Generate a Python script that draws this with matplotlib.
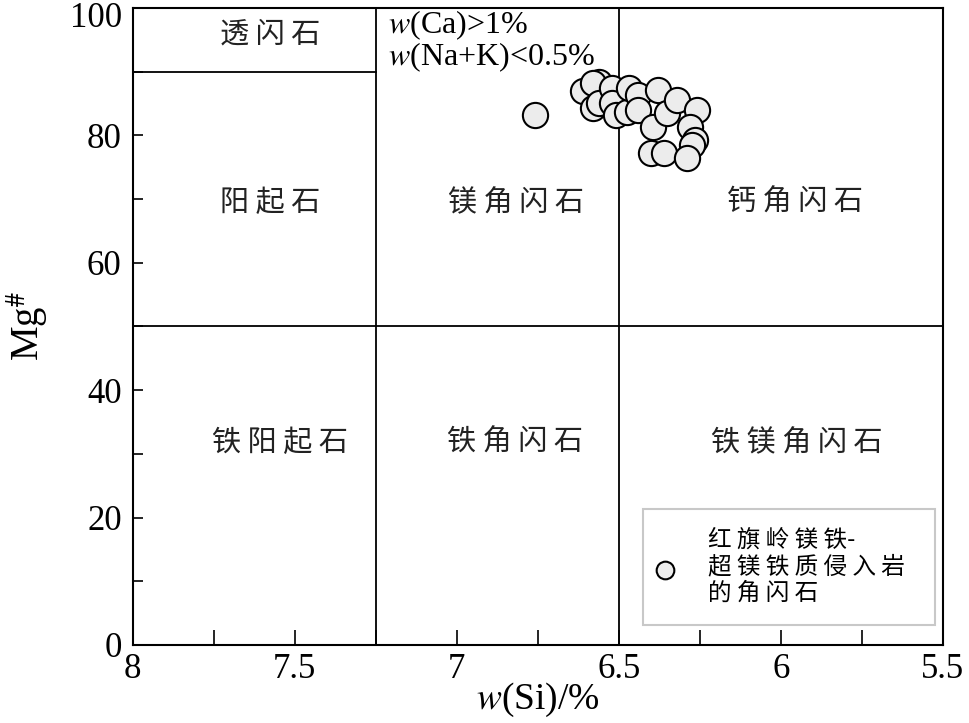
import matplotlib
matplotlib.use("Agg")
import matplotlib.pyplot as plt
import matplotlib.transforms as mtransforms

plt.rcParams['font.family'] = ['Liberation Serif', 'Noto Sans CJK SC']
plt.rcParams['mathtext.fontset'] = 'stix'

# amphibole analyses: Si (apfu) and Mg#
si = [6.76, 6.61, 6.56, 6.58, 6.58, 6.56, 6.52, 6.52, 6.51, 6.475, 6.47, 6.44, 6.44,
      6.38, 6.395, 6.40, 6.36, 6.35, 6.32, 6.26, 6.28, 6.265, 6.275, 6.29]
mg = [83.2, 87.0, 88.4, 88.2, 84.3, 85.1, 87.4, 85.1, 83.2, 83.7, 87.4, 86.3, 84.0,
      87.1, 81.3, 77.2, 77.2, 83.5, 85.6, 84.0, 81.3, 79.3, 78.5, 76.5]

# classification field names (Leake et al.)
fields = ['透闪石', '阳起石', '镁角闪石', '钙角闪石', '铁阳起石', '铁角闪石', '铁镁角闪石']
field_x = [7.577, 7.577, 6.818, 5.957, 7.546, 6.821, 5.951]
field_y = [95.8, 69.4, 69.4, 69.4, 31.7, 31.7, 31.7]

si_bounds = [7.25, 6.5]
mg_bound = 50
tr_bound = 90

xticks = [8, 7.75, 7.5, 7.25, 7, 6.75, 6.5, 6.25, 6, 5.75, 5.5]
xticklabels = ['8', '', '7.5', '', '7', '', '6.5', '', '6', '', '5.5']
yticks = list(range(0, 101, 10))
yticklabels = ['0', '', '20', '', '40', '', '60', '', '80', '', '100']

legend_label = '红 旗 岭 镁 铁-\n超 镁 铁 质 侵 入 岩\n的 角 闪 石'

cjk = ['Noto Sans CJK SC', 'DejaVu Sans']


def spaced(s):
    return ' '.join(s)


fig = plt.figure(figsize=(9.69, 7.23), dpi=100)
ax = fig.add_axes([0.137, 0.108, 0.836, 0.881])

ax.set_xlim(8, 5.5)
ax.set_ylim(0, 100)

for b in si_bounds:
    ax.axvline(b, color='black', lw=1.3)
ax.axhline(mg_bound, color='black', lw=1.3)
ax.plot([8, 7.25], [tr_bound, tr_bound], color='black', lw=1.3)

sc = ax.scatter(si, mg, s=330, facecolor='#ececec', edgecolor='black',
                linewidth=1.5, zorder=3, label=legend_label)

for name, fx, fy in zip(fields, field_x, field_y):
    ax.text(fx, fy, spaced(name), ha='center', va='center', fontsize=21,
            family=cjk, fontweight='light', color='#222222')

ax.text(7.213, 97.3, '$w$(Ca)>1%', fontsize=23, ha='left', va='center')
ax.text(7.213, 92.2, '$w$(Na+K)<0.5%', fontsize=23, ha='left', va='center')

ax.set_xticks(xticks)
ax.set_xticklabels(xticklabels)
ax.tick_params(axis='x', direction='in', length=11, width=1.2, labelsize=25, pad=6)

ax.set_yticks(yticks)
ax.set_yticklabels(yticklabels)
ax.tick_params(axis='y', direction='in', length=7.5, width=1.2, labelsize=25, pad=8)

# the top label sits a little below its tick, as in the original figure
top_lab = ax.get_yticklabels()[-1]
top_lab.set_transform(top_lab.get_transform() +
                      mtransforms.ScaledTranslation(0, -5 / 72, fig.dpi_scale_trans))

for sp in ax.spines.values():
    sp.set_linewidth(1.5)

ax.set_xlabel('$w$(Si)/%', fontsize=27, labelpad=-4)
ax.set_ylabel('Mg$^{\\#}$', fontsize=28, labelpad=13)

leg = ax.legend(handles=[sc], loc='lower left', bbox_to_anchor=(0.6296, 0.031, 0.3605, 0.2),
                mode='expand', frameon=True, fancybox=False, edgecolor='#bbbbbb',
                prop={'family': cjk, 'size': 17, 'weight': 'light'},
                markerscale=0.7, handletextpad=1.7, borderpad=0.85, handlelength=0.2,
                borderaxespad=0)
leg.get_frame().set_linewidth(1.5)
for t in leg.get_texts():
    t.set_linespacing(1.2)

fig.savefig('out.png', dpi=100)
